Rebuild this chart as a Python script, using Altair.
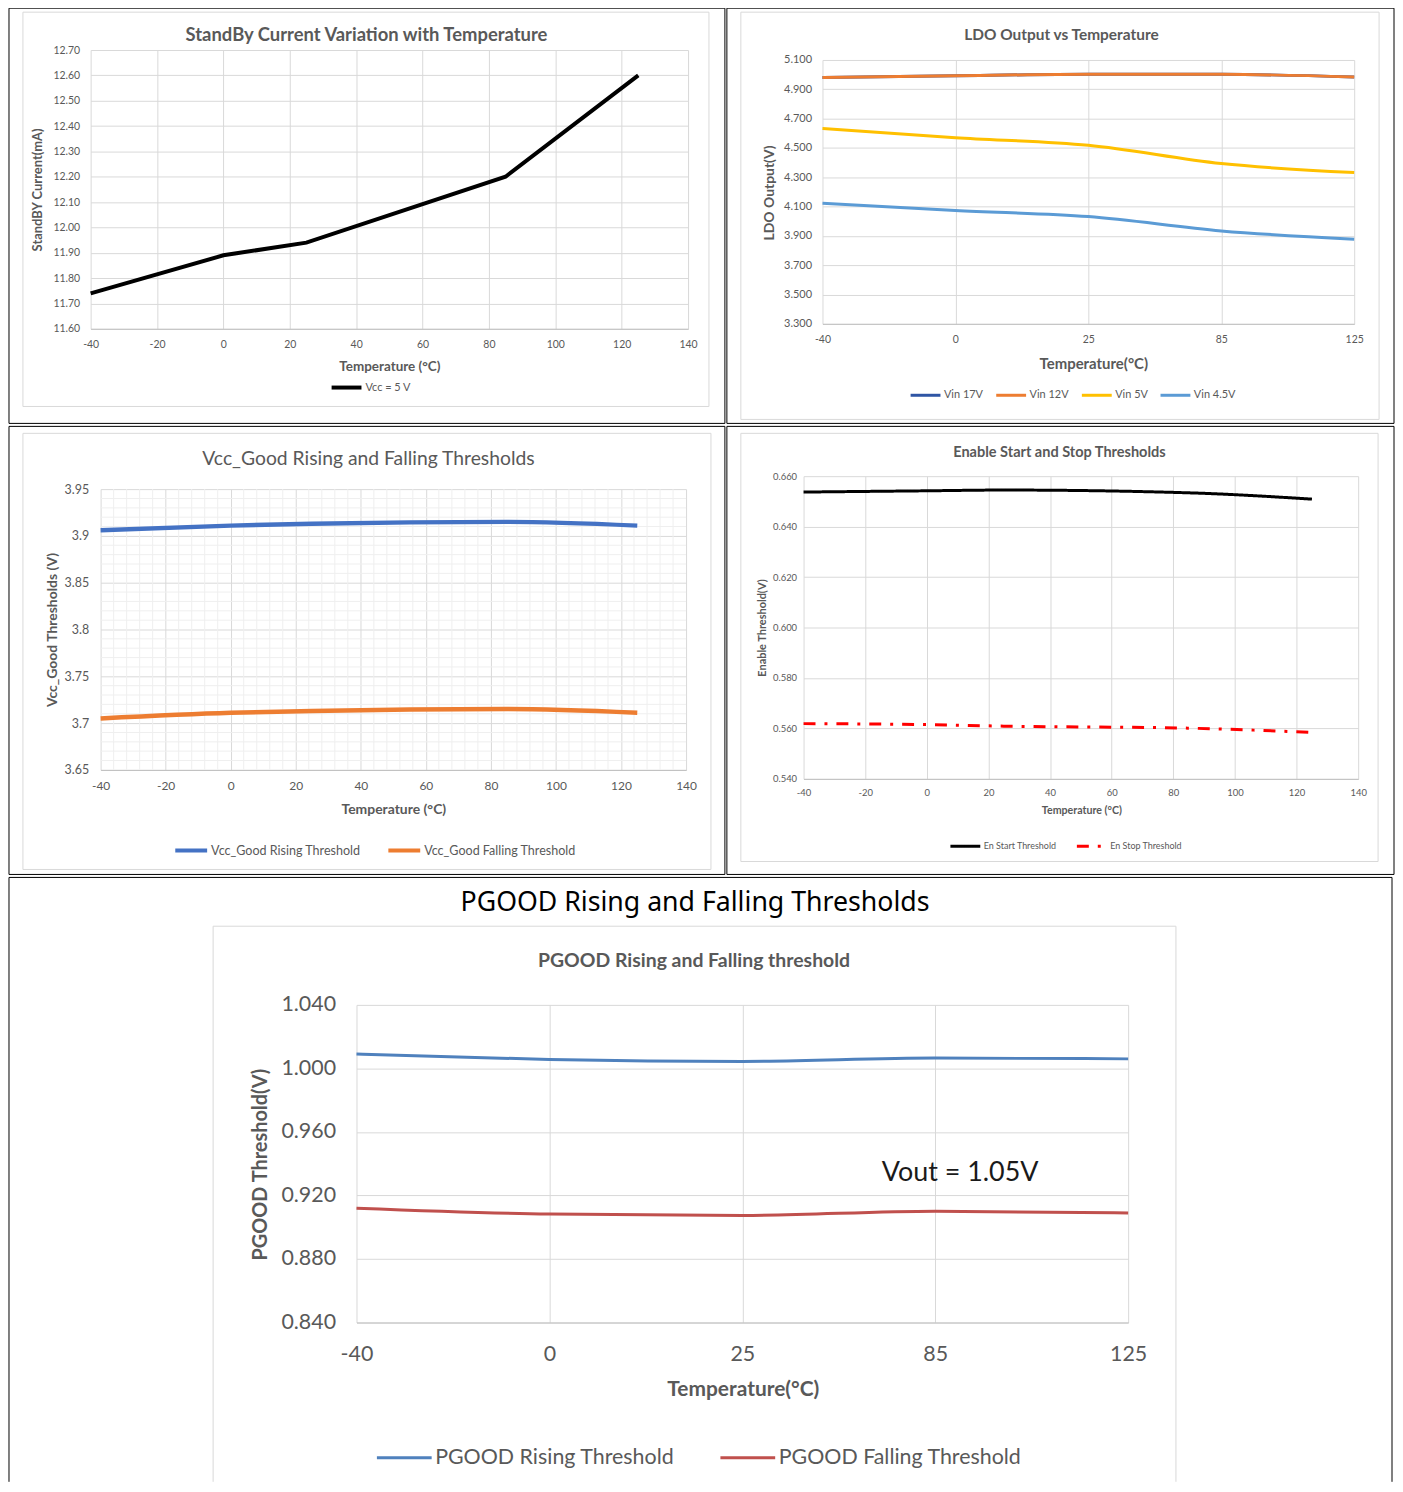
import altair as alt
import pandas as pd

# ---------------- data ----------------
TEMPS = [-40, 0, 25, 85, 125]
TEMP_CATS = ["-40", "0", "25", "85", "125"]

STANDBY_SERIES = ["Vcc = 5 V"]
STANDBY_MA = [11.74, 11.89, 11.94, 12.20, 12.60]

LDO_SERIES = ["Vin 17V", "Vin 12V", "Vin 5V", "Vin 4.5V"]
LDO_VIN17 = [4.981, 4.993, 5.002, 5.002, 4.984]
LDO_VIN12 = [4.981, 4.993, 5.002, 5.002, 4.984]
LDO_VIN5 = [4.632, 4.570, 4.518, 4.393, 4.332]
LDO_VIN45 = [4.123, 4.073, 4.032, 3.934, 3.877]

VCCG_SERIES = ["Vcc_Good Rising Threshold", "Vcc_Good Falling Threshold"]
VCCG_RISE = [3.906, 3.911, 3.913, 3.915, 3.911]
VCCG_FALL = [3.705, 3.711, 3.713, 3.715, 3.711]

EN_SERIES = ["En Start Threshold", "En Stop Threshold"]
EN_START = [0.6537, 0.6542, 0.6545, 0.6534, 0.6509]
EN_STOP = [0.5619, 0.5615, 0.5609, 0.5601, 0.5584]

PG_SERIES = ["PGOOD Rising Threshold", "PGOOD Falling Threshold"]
PG_RISE = [1.0090, 1.0056, 1.0044, 1.0065, 1.0060]
PG_FALL = [0.9120, 0.9083, 0.9074, 0.9101, 0.9090]

# tick values
X_TICKS_20 = [-40, -20, 0, 20, 40, 60, 80, 100, 120, 140]
P1_YTICKS = [11.6, 11.7, 11.8, 11.9, 12.0, 12.1, 12.2, 12.3, 12.4, 12.5, 12.6, 12.7]
P2_YTICKS = [3.3, 3.5, 3.7, 3.9, 4.1, 4.3, 4.5, 4.7, 4.9, 5.1]
P3_YTICKS = [3.65, 3.7, 3.75, 3.8, 3.85, 3.9, 3.95]
P3_XMINOR = [t for t in range(-40, 141, 4) if t % 20 != 0]
P3_YMINOR = [round(3.65 + 0.01 * i, 2) for i in range(31) if i % 5 != 0]
P4_YTICKS = [0.54, 0.56, 0.58, 0.60, 0.62, 0.64, 0.66]
P5_YTICKS = [0.84, 0.88, 0.92, 0.96, 1.00, 1.04]

# ---------------- style helpers ----------------
FONT = "Lato"
GRAY = "#595959"
GRID = "#D9D9D9"
ONE = pd.DataFrame({"k": [0]})


def long_df(names, series, xs, field):
    rows = []
    for name, vals in zip(names, series):
        for t, v in zip(xs, vals):
            rows.append({"T": t, "V": v, field: name})
    return pd.DataFrame(rows)


def rect(x0, x1, y0, y1, color):
    return alt.Chart(ONE).mark_rect(
        fill="white", fillOpacity=0, stroke=color, strokeWidth=1
    ).encode(x=alt.value(x0), x2=alt.value(x1), y=alt.value(y0), y2=alt.value(y1))


def vline(x, y0, y1, color):
    return alt.Chart(ONE).mark_rule(color=color, strokeWidth=1).encode(
        x=alt.value(x), y=alt.value(y0), y2=alt.value(y1))


def hline(x0, x1, y, color):
    return alt.Chart(ONE).mark_rule(color=color, strokeWidth=1).encode(
        x=alt.value(x0), x2=alt.value(x1), y=alt.value(y))


def label(text, x, y, size, weight="normal", color=GRAY, font=FONT):
    return alt.Chart(ONE).mark_text(
        text=text, font=font, fontSize=size, fontWeight=weight, color=color,
        align="center", baseline="middle"
    ).encode(x=alt.value(x), y=alt.value(y))


def x_axis(title, size, pad, tsize, tx, ty, values=None):
    kw = dict(
        title=title, grid=True, gridColor=GRID, gridWidth=1, domain=True,
        domainColor="#BFBFBF", ticks=False, tickSize=0, labelFont=FONT,
        labelFontSize=size, labelColor=GRAY, labelPadding=pad, labelFlush=False,
        labelOverlap=False, labelAngle=0, titleFont=FONT, titleFontSize=tsize,
        titleFontWeight="bold", titleColor=GRAY, titleX=tx, titleY=ty,
        titleAlign="center", titleBaseline="middle",
    )
    if values is not None:
        kw["values"] = values
        kw["labelExpr"] = "'' + datum.value"
    return alt.Axis(**kw)


def y_axis(title, values, fmt, size, pad, tsize, tx, ty):
    return alt.Axis(
        title=title, values=values, format=fmt, grid=True, gridColor=GRID,
        gridWidth=1, domain=False, ticks=False, tickSize=0, labelFont=FONT,
        labelFontSize=size, labelColor=GRAY, labelPadding=pad, labelFlush=False,
        labelOverlap=False, titleFont=FONT, titleFontSize=tsize,
        titleFontWeight="bold", titleColor=GRAY, titleAngle=270, titleX=tx,
        titleY=ty, titleAlign="center", titleBaseline="middle",
    )


def legend(x, y_center, size, sym_len, sym_w, gap, cols):
    # legend entries are as tall as the symbol's square box
    return alt.Legend(
        orient="none", legendX=x, legendY=y_center - sym_len / 2,
        direction="horizontal", columns=cols, title=None, symbolType="stroke",
        symbolSize=sym_len ** 2, symbolStrokeWidth=sym_w, labelFont=FONT,
        labelFontSize=size, labelColor=GRAY, labelOffset=2, columnPadding=gap,
        labelLimit=400,
    )


# ---------------- panel 1 ----------------
p1_df = long_df(STANDBY_SERIES, [STANDBY_MA], TEMPS, "S1")
p1_x = alt.X("T:Q", scale=alt.Scale(domain=[-40, 140], nice=False, zero=False),
             axis=x_axis("Temperature (°C)", 10.5, 11, 13.5, 300, 38, X_TICKS_20))
p1_y = alt.Y("V:Q", scale=alt.Scale(domain=[11.6, 12.7], nice=False, zero=False),
             axis=y_axis("StandBY Current(mA)", P1_YTICKS, ".2f", 10.5, 11, 13, -53, 140))
p1_line = alt.Chart(p1_df).mark_line(strokeWidth=4).encode(
    x=p1_x, y=p1_y,
    color=alt.Color("S1:N", scale=alt.Scale(domain=STANDBY_SERIES, range=["#000000"]),
                    legend=legend(240, 337, 11, 30, 4, 10, 1)),
)
p1 = alt.layer(
    rect(-82, 637, -42, 375, "#000000"),
    rect(-68, 621, -38, 358, GRID),
    label("StandBy Current Variation with Temperature", 277, -15, 18.5, "bold"),
    p1_line,
).properties(width=600, height=280)

# ---------------- panel 2 ----------------
p2_x = alt.X("T:O", sort=TEMP_CATS,
             scale=alt.Scale(type="point", padding=0, domain=TEMP_CATS),
             axis=x_axis("Temperature(°C)", 10.5, 11, 15, 272, 40))
p2_y = alt.Y("V:Q", scale=alt.Scale(domain=[3.3, 5.1], nice=False, zero=False),
             axis=y_axis("LDO Output(V)", P2_YTICKS, ".3f", 11, 11, 14, -53, 133))
p2_color = alt.Color("S2:N", scale=alt.Scale(
    domain=LDO_SERIES, range=["#2F55A4", "#ED7D31", "#FFC000", "#5B9BD5"]),
    legend=legend(87, 335, 11, 30, 3, 6, 4))
p2_low = alt.Chart(long_df(LDO_SERIES[:1], [LDO_VIN17], TEMP_CATS, "S2")).mark_line(
    strokeWidth=3, interpolate="monotone").encode(x=p2_x, y=p2_y, color=p2_color)
p2_high = alt.Chart(long_df(LDO_SERIES[1:], [LDO_VIN12, LDO_VIN5, LDO_VIN45], TEMP_CATS, "S2")).mark_line(
    strokeWidth=3, interpolate="monotone").encode(x=p2_x, y=p2_y, color=p2_color)
p2 = alt.layer(
    rect(-96, 574, -52, 365, "#000000"),
    rect(-82, 559, -48, 361, GRID),
    label("LDO Output vs Temperature", 240, -25, 15.5, "bold"),
    p2_low, p2_high,
).properties(width=534, height=265)

# ---------------- panel 3 ----------------
p3_xscale = alt.Scale(domain=[-40, 140], nice=False, zero=False)
p3_yscale = alt.Scale(domain=[3.65, 3.95], nice=False, zero=False)
p3_xaxis = x_axis("Temperature (°C)", 12, 11, 14, 294, 40, X_TICKS_20)
p3_yaxis = y_axis("Vcc_Good Thresholds (V)", P3_YTICKS, ".3~g", 12.5, 12, 14, -48, 141)
p3_minor_x = alt.Chart(pd.DataFrame({"T": P3_XMINOR})).mark_rule(
    color="#EFEFEF", strokeWidth=1).encode(
    x=alt.X("T:Q", scale=p3_xscale, axis=p3_xaxis))
p3_minor_y = alt.Chart(pd.DataFrame({"V": P3_YMINOR})).mark_rule(
    color="#EFEFEF", strokeWidth=1).encode(
    y=alt.Y("V:Q", scale=p3_yscale, axis=p3_yaxis))
p3_line = alt.Chart(long_df(VCCG_SERIES, [VCCG_RISE, VCCG_FALL], TEMPS, "S3")).mark_line(
    strokeWidth=4.5, interpolate="monotone").encode(
    x=alt.X("T:Q", scale=p3_xscale, axis=p3_xaxis),
    y=alt.Y("V:Q", scale=p3_yscale, axis=p3_yaxis),
    color=alt.Color("S3:N", scale=alt.Scale(domain=VCCG_SERIES, range=["#4472C4", "#ED7D31"]),
                    legend=legend(73, 361, 12.6, 32, 4, 19, 2)),
)
p3 = alt.layer(
    rect(-92, 627, -63, 387, "#000000"),
    rect(-78, 613, -56, 382, GRID),
    label("Vcc_Good Rising and Falling Thresholds", 269, -30, 19.4),
    p3_minor_x, p3_minor_y, p3_line,
).properties(width=588, height=282)

# ---------------- panel 4 ----------------
p4_leg = legend(146, 370, 9, 30, 3, 14, 2)
p4_line = alt.Chart(long_df(EN_SERIES, [EN_START, EN_STOP], TEMPS, "S4")).mark_line(
    strokeWidth=3, interpolate="monotone").encode(
    x=alt.X("T:Q", scale=alt.Scale(domain=[-40, 140], nice=False, zero=False),
            axis=x_axis("Temperature (°C)", 9.5, 9, 10.7, 279, 32, X_TICKS_20)),
    y=alt.Y("V:Q", scale=alt.Scale(domain=[0.54, 0.66], nice=False, zero=False),
            axis=y_axis("Enable Threshold(V)", P4_YTICKS, ".3f", 9.5, 7, 11, -41, 152)),
    color=alt.Color("S4:N", scale=alt.Scale(domain=EN_SERIES, range=["#000000", "#FF0000"]),
                    legend=p4_leg),
    strokeDash=alt.StrokeDash("S4:N", scale=alt.Scale(domain=EN_SERIES, range=[[1, 0], [12, 9, 3, 9]]),
                              legend=p4_leg),
)
p4 = alt.layer(
    rect(-77, 593, -50, 400, "#000000"),
    rect(-63, 577, -43, 387, GRID),
    label("Enable Start and Stop Thresholds", 257, -23, 14.6, "bold"),
    p4_line,
).properties(width=557, height=304)

# ---------------- panel 5 ----------------
p5_x = alt.X("T:O", sort=TEMP_CATS,
             scale=alt.Scale(type="point", padding=0, domain=TEMP_CATS),
             axis=x_axis("Temperature(°C)", 21.5, 21, 21, 388, 67))
p5_y = alt.Y("V:Q", scale=alt.Scale(domain=[0.84, 1.04], nice=False, zero=False),
             axis=y_axis("PGOOD Threshold(V)", P5_YTICKS, ".3f", 21.5, 21, 20, -96, 160))
p5_line = alt.Chart(long_df(PG_SERIES, [PG_RISE, PG_FALL], TEMP_CATS, "S5")).mark_line(
    strokeWidth=3, interpolate="monotone").encode(
    x=p5_x, y=p5_y,
    color=alt.Color("S5:N", scale=alt.Scale(domain=PG_SERIES, range=["#4F81BD", "#C0504D"]),
                    legend=legend(19, 453, 21.5, 55, 3, 39, 2)),
)
p5_note = alt.Chart(pd.DataFrame({"T": ["85"], "V": [0.934], "txt": ["Vout = 1.05V"]})).mark_text(
    font=FONT, fontSize=27, color="#1A1A1A", align="center", baseline="middle", dx=25
).encode(x=p5_x, y=p5_y, text="txt:N")
P5_BOTTOM = 479
p5 = alt.layer(
    hline(-349, 1040, -128, "#000000"),
    vline(-349, -128, P5_BOTTOM, "#000000"),
    vline(1040, -128, P5_BOTTOM, "#000000"),
    hline(-144, 823, -79, GRID),
    vline(-144, -79, P5_BOTTOM, GRID),
    vline(823, -79, P5_BOTTOM, GRID),
    label("PGOOD Rising and Falling Thresholds", 340, -102, 26.8, color="#000000", font="Noto Sans"),
    label("PGOOD Rising and Falling threshold", 339, -44, 19.5, "bold"),
    p5_line, p5_note,
).properties(width=775, height=319)


# ---------------- layout ----------------
def spacer():
    return alt.Chart(ONE).mark_rect(opacity=0).encode(
        x=alt.value(0), x2=alt.value(0), y=alt.value(0), y2=alt.value(0)
    ).properties(width=1, height=1)


def concat(items, cols):
    return alt.ConcatChart(
        concat=items, columns=cols, align="none", spacing=0, bounds="full"
    ).resolve_scale(color="independent", strokeDash="independent")


def wrap(p):
    # spacer on top so the panel's top edge sits at the wrapper's origin
    return concat([spacer(), p], 1)


def row(*panels):
    # spacer on the left so the row's left edge sits at the row's origin
    return concat([spacer()] + [wrap(p) for p in panels], len(panels) + 1)


chart = alt.ConcatChart(
    concat=[row(p1, p2), row(p3, p4), row(p5)], columns=1, align="none",
    spacing=0, bounds="full", background="white",
    padding={"top": -5, "left": -1, "right": 0, "bottom": 0},
).resolve_scale(color="independent", strokeDash="independent").configure_view(strokeWidth=0)

chart.save("out.html", embed_options={"renderer": "svg", "actions": False})
